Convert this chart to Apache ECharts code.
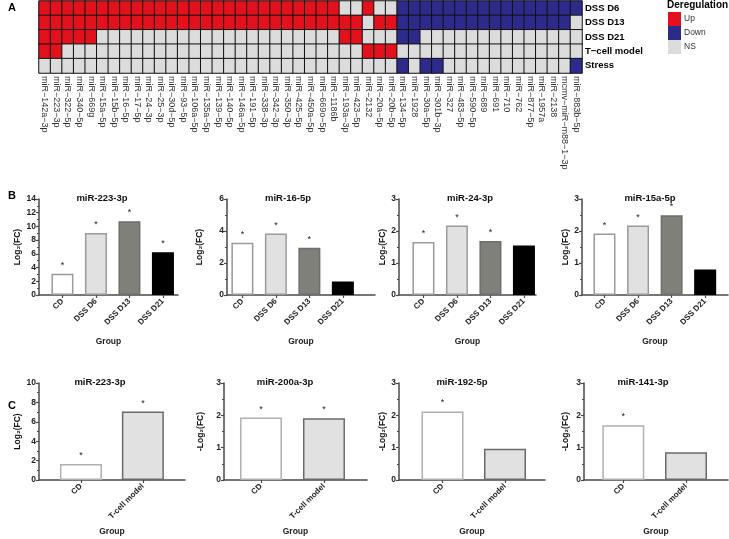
<!DOCTYPE html>
<html><head><meta charset="utf-8">
<script src="https://cdn.jsdelivr.net/npm/echarts@6/dist/echarts.min.js"></script>
<style>html,body{margin:0;padding:0;background:#fff}#c{width:729px;height:539px}</style>
</head><body><div id="c"></div>
<script>
// ---------- Panel A data ----------
const heatCols = ['miR−142a−3p','miR−223−3p','miR−322−5p','miR−340−5p','miR−669g','miR−15a−5p','miR−15b−5p','miR−16−5p','miR−17−5p','miR−24−3p',
  'miR−25−3p','miR−30d−5p','miR−93−5p','miR−106a−5p','miR−135a−5p','miR−139−5p','miR−140−5p','miR−146a−5p','miR−191−5p','miR−338−3p',
  'miR−342−3p','miR−350−3p','miR−425−5p','miR−450a−5p','miR−669o−5p','miR−1186b','miR−193a−3p','miR−423−5p','miR−2132','miR−20a−5p',
  'miR−20b−5p','miR−134−5p','miR−1928','miR−30a−5p','miR−301b−3p','miR−327','miR−483−5p','miR−590−5p','miR−689','miR−691',
  'miR−710','miR−762','miR−877−5p','miR−1957a','miR−2138','mcmv−miR−m88−1−3p','miR−883b−5p'];
const heatRows = ['DSS D6','DSS D13','DSS D21','T−cell model','Stress'];
// 1 = Up, -1 = Down, 0 = NS
const rowDSS6 = [1,1,1,1,1,1,1,1,1,1, 1,1,1,1,1,1,1,1,1,1, 1,1,1,1,1,1,0,0,1,0, 0,-1,-1,-1,-1,-1,-1,-1,-1,-1, -1,-1,-1,-1,-1,-1,-1];
const rowDSS13 = [1,1,1,1,1,1,1,1,1,1, 1,1,1,1,1,1,1,1,1,1, 1,1,1,1,1,1,1,1,0,1, 1,-1,-1,-1,-1,-1,-1,-1,-1,-1, -1,-1,-1,-1,-1,-1,0];
const rowDSS21 = [1,1,1,1,1,0,0,0,0,0, 0,0,0,0,0,0,0,0,0,0, 0,0,0,0,0,0,1,1,0,0, 0,-1,-1,0,0,0,0,0,0,0, 0,0,0,0,0,0,0];
const rowTcell = [1,1,0,0,0,0,0,0,0,0, 0,0,0,0,0,0,0,0,0,0, 0,0,0,0,0,0,0,0,1,1, 1,0,0,0,0,0,0,0,0,0, 0,0,0,0,0,0,0];
const rowStress = [0,0,0,0,0,0,0,0,0,0, 0,0,0,0,0,0,0,0,0,0, 0,0,0,0,0,0,0,0,0,0, 0,-1,0,-1,-1,0,0,0,0,0, 0,0,0,0,0,0,-1];
const legendLabels = ['Up','Down','NS'];

// ---------- Panel B data ----------
const bGroups = ['CD','DSS D6','DSS D13','DSS D21'];
const bTitles = ['miR-223-3p','miR-16-5p','miR-24-3p','miR-15a-5p'];
const b223 = [3.1, 9.05, 10.75, 6.25];
const b16 = [3.27, 3.84, 2.96, 0.84];
const b24 = [1.66, 2.17, 1.69, 1.55];
const b15a = [1.92, 2.17, 2.49, 0.8];
const b223Sig = [1,1,1,1];
const b16Sig = [1,1,1,0];
const b24Sig = [1,1,1,0];
const b15aSig = [1,1,1,0];
const bYMax = [14, 6, 3, 3];
const bYStep = [2, 2, 1, 1];

// ---------- Panel C data ----------
const cGroups = ['CD','T-cell model'];
const cTitles = ['miR-223-3p','miR-200a-3p','miR-192-5p','miR-141-3p'];
const c223 = [1.64, 7.05];
const c200a = [1.93, 1.91];
const c192 = [2.12, 0.97];
const c141 = [1.69, 0.86];
const c223Sig = [1,1];
const c200aSig = [1,1];
const c192Sig = [1,0];
const c141Sig = [1,0];
const cYMax = [10, 3, 3, 3];
const cYStep = [2, 1, 1, 1];
const cYNames = ['Log₂(FC)','-Log₂(FC)','-Log₂(FC)','-Log₂(FC)'];

// ---------- styles / layout ----------
const FONT = 'Liberation Sans, Arial, sans-serif';
const bStyles = [
  {color:'#ffffff', borderColor:'#9a9a9a'},
  {color:'#e1e1e1', borderColor:'#9a9a9a'},
  {color:'#80807b', borderColor:'#6e6e6a'},
  {color:'#000000', borderColor:'#000000'}
];
const cStyles = [
  {color:'#ffffff', borderColor:'#b0b0b0'},
  {color:'#e1e1e1', borderColor:'#6a6a6a'}
];
const bLayout = [
  {left:39, right:178, min:-0.70, max:3.45, gap:16, tx:102},
  {left:227, right:375, min:-0.46, max:3.96, gap:23, tx:288},
  {left:399, right:536, min:-0.73, max:3.36, gap:11, tx:470},
  {left:582, right:728, min:-0.67, max:3.68, gap:11, tx:650}
];
const cLayout = [
  {left:39, right:185, min:-0.677, max:1.68, gap:16, tx:100},
  {left:224, right:367, min:-0.587, max:1.683, gap:19, tx:285},
  {left:399, right:545, min:-0.696, max:1.64, gap:12, tx:462},
  {left:584, right:728, min:-0.627, max:1.67, gap:14, tx:643}
];

const grids = [{left:39, top:1, width:543, height:72}];
const xAxes = [{
  type:'category', gridIndex:0, data:heatCols,
  axisLine:{show:false}, axisTick:{show:false}, splitLine:{show:false},
  axisLabel:{rotate:-90, interval:0, fontSize:9, color:'#333', margin:3, fontFamily:FONT}
}];
const yAxes = [{
  type:'category', gridIndex:0, data:heatRows, inverse:true, position:'right',
  axisLine:{show:false}, axisTick:{show:false}, splitLine:{show:false},
  axisLabel:{fontSize:9.5, fontWeight:'bold', color:'#000', margin:3, fontFamily:FONT}
}];
// visual codes: Up -> 2, Down -> 1, NS -> 0 (so the legend lists Up, Down, NS)
const codeOf = (v)=> v === 1 ? 2 : (v === -1 ? 1 : 0);
const heatData = [];
[rowDSS6,rowDSS13,rowDSS21,rowTcell,rowStress].forEach((row,r)=>{
  row.forEach((v,c)=>heatData.push([c,r,codeOf(v)]));
});
const series = [{
  type:'heatmap', xAxisIndex:0, yAxisIndex:0, data:heatData,
  itemStyle:{borderColor:'#111', borderWidth:1}
}];
const letterStyle = {fontSize:11, fontWeight:'bold', color:'#000', fontFamily:FONT};
const titles = [
  {text:'A', left:8, top:2, padding:0, textStyle:letterStyle},
  {text:'B', left:8, top:190, padding:0, textStyle:letterStyle},
  {text:'C', left:8, top:400, padding:0, textStyle:letterStyle},
  {text:'Deregulation', left:667, top:0, padding:0, textStyle:{fontSize:10, fontWeight:'bold', color:'#000', fontFamily:FONT}}
];

function addBarChart(lay, top, height, groups, values, sig, styles, ymax, ystep, yname, title, groupGap) {
  const gi = grids.length;
  grids.push({left:lay.left, top:top, width:lay.right-lay.left, height:height});
  const idx = groups.map((g,i)=>i);
  xAxes.push({
    type:'value', gridIndex:gi, min:lay.min, max:lay.max,
    splitLine:{show:false},
    axisLine:{show:true, onZero:false, lineStyle:{color:'#4a4a4a', width:1.5}},
    axisTick:{show:true, customValues:idx, length:3, lineStyle:{color:'#4a4a4a', width:1.2}},
    axisLabel:{customValues:idx, rotate:45, fontSize:8, fontWeight:'bold', color:'#222', margin:5, fontFamily:FONT,
      formatter:(v)=>groups[Math.round(v)]},
    name:'Group', nameLocation:'middle', nameGap:groupGap,
    nameTextStyle:{fontSize:8.5, fontWeight:'bold', color:'#222', fontFamily:FONT}
  });
  yAxes.push({
    type:'value', gridIndex:gi, min:0, max:ymax, interval:ystep,
    splitLine:{show:false},
    axisLine:{show:true, onZero:false, lineStyle:{color:'#4a4a4a', width:1.5}},
    axisTick:{show:true, length:3, lineStyle:{color:'#4a4a4a', width:1.2}},
    minorTick:{show:true, splitNumber:2, length:2, lineStyle:{color:'#4a4a4a', width:1}},
    axisLabel:{fontSize:8.5, fontWeight:'bold', color:'#222', margin:3, fontFamily:FONT},
    name:yname, nameLocation:'middle', nameGap:lay.gap,
    nameTextStyle:{fontSize:8.5, fontWeight:'bold', color:'#111', fontFamily:FONT}
  });
  series.push({
    type:'bar', xAxisIndex:gi, yAxisIndex:gi,
    barWidth: groups.length === 4 ? 22 : 42,
    data: values.map((v,i)=>({value:[i,v], itemStyle:{color:styles[i].color, borderColor:styles[i].borderColor, borderWidth:1.5}})),
    label:{show:true, position:'top', distance:4, fontSize:9, color:'#222', fontFamily:FONT,
      formatter:(p)=> sig[p.dataIndex] ? '*' : ''}
  });
  titles.push({text:title, left:lay.tx, top:top-6, padding:0, textAlign:'center',
    textStyle:{fontSize:9.5, fontWeight:'bold', color:'#111', fontFamily:FONT}});
}

const bVals = [b223,b16,b24,b15a];
const bSigs = [b223Sig,b16Sig,b24Sig,b15aSig];
bLayout.forEach((lay,i)=>addBarChart(lay, 199, 96, bGroups, bVals[i], bSigs[i], bStyles, bYMax[i], bYStep[i], 'Log₂(FC)', bTitles[i], 42));
const cVals = [c223,c200a,c192,c141];
const cSigs = [c223Sig,c200aSig,c192Sig,c141Sig];
cLayout.forEach((lay,i)=>addBarChart(lay, 383, 97, cGroups, cVals[i], cSigs[i], cStyles, cYMax[i], cYStep[i], cYNames[i], cTitles[i], 47));

const option = {
  animation:false,
  backgroundColor:'#fff',
  title: titles,
  grid: grids,
  xAxis: xAxes,
  yAxis: yAxes,
  visualMap: {
    type:'piecewise', seriesIndex:0, orient:'vertical', left:668, top:12, align:'left',
    itemWidth:13, itemHeight:14, itemGap:0, textGap:3, itemSymbol:'rect', padding:0,
    hoverLink:false, selectedMode:false,
    pieces:[
      {value:2, label:legendLabels[0], color:'#e3111b'},
      {value:1, label:legendLabels[1], color:'#2d2a8c'},
      {value:0, label:legendLabels[2], color:'#dcdcdc'}
    ],
    textStyle:{fontSize:8.5, color:'#333', fontFamily:FONT}
  },
  series: series
};
const chart = echarts.init(document.getElementById('c'));
chart.setOption(option);
</script>
</body></html>
